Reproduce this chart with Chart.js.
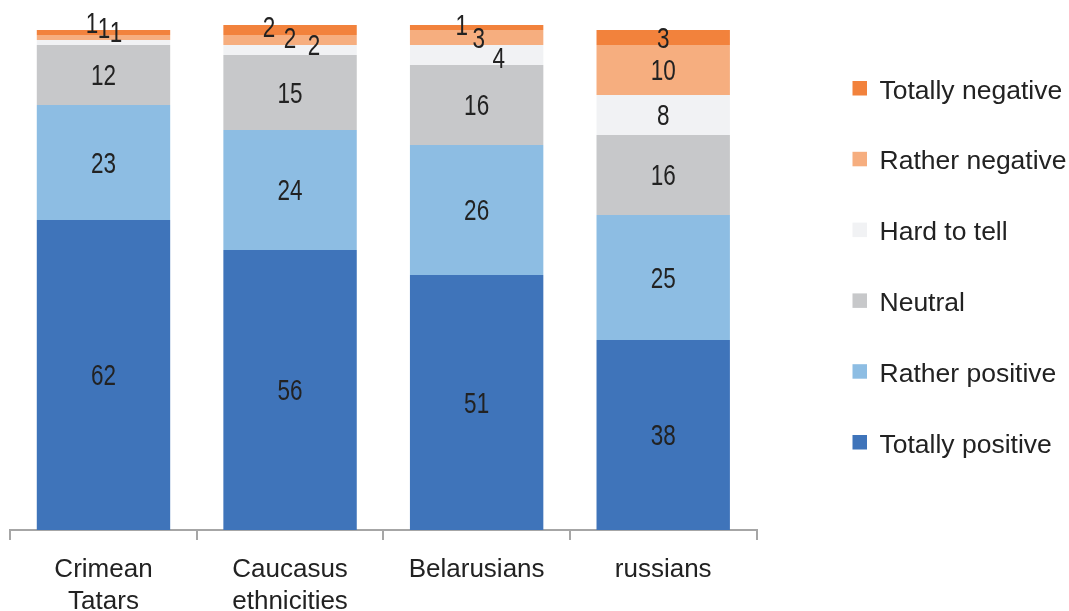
<!DOCTYPE html>
<html>
<head>
<meta charset="utf-8">
<script src="https://cdn.jsdelivr.net/npm/chart.js@4"></script>
<style>
  html, body { margin: 0; padding: 0; background: #fff; }
  #wrap { width: 1069px; height: 611px; }
</style>
</head>
<body>
<div id="wrap"><canvas id="chart"></canvas></div>
<script>
// data (percent)
const categories = [['Crimean', 'Tatars'], ['Caucasus', 'ethnicities'], 'Belarusians', 'russians'];
const totallyPositive = [62, 56, 51, 38];
const ratherPositive = [23, 24, 26, 25];
const neutral = [12, 15, 16, 16];
const hardToTell = [1, 2, 4, 8];
const ratherNegative = [1, 2, 3, 10];
const totallyNegative = [1, 2, 1, 3];
const yMax = 101;

// small segments get their labels pushed aside, like in the original
const nudge = {
  3: { 0: [12.5, -10.5], 1: [24, -5.5], 2: [22, 2.5] },
  4: { 0: [0.5, -10], 1: [0, -2.5], 2: [2, 0.5] },
  5: { 0: [-11.5, -9.5], 1: [-21, -3], 2: [-15, -2.5] }
};

const LABEL_SIZE = 22.5;
const STRETCH = 1.3;

const valueLabels = {
  id: 'valueLabels',
  afterDatasetsDraw(chart) {
    const ctx = chart.ctx;
    ctx.save();
    ctx.fillStyle = '#222';
    ctx.textAlign = 'center';
    ctx.textBaseline = 'alphabetic';
    ctx.font = LABEL_SIZE + 'px "Liberation Sans", Arial, sans-serif';
    chart.data.datasets.forEach((ds, di) => {
      chart.getDatasetMeta(di).data.forEach((bar, i) => {
        const off = (nudge[di] && nudge[di][i]) || [0, 0];
        const cy = (bar.y + bar.base) / 2 + off[1];
        ctx.save();
        // baseline sits half a cap height below the centre
        ctx.translate(bar.x + off[0], cy + 0.358 * LABEL_SIZE * STRETCH);
        ctx.scale(1, STRETCH); // the original text is stretched vertically
        ctx.fillText(ds.data[i], 0, 0);
        ctx.restore();
      });
    });
    ctx.restore();
  }
};

// legend on the right, top item = top of the stack
const sideLegend = {
  id: 'sideLegend',
  afterDraw(chart) {
    const ctx = chart.ctx;
    const dsets = chart.data.datasets.slice().reverse();
    const x = chart.chartArea.right + 96;
    ctx.save();
    ctx.font = '26.5px "Liberation Sans", Arial, sans-serif';
    ctx.textBaseline = 'alphabetic';
    ctx.textAlign = 'left';
    dsets.forEach((ds, i) => {
      const top = 81 + i * 70.8;
      ctx.fillStyle = ds.backgroundColor;
      ctx.fillRect(x, top, 14.5, 14.5);
      ctx.fillStyle = '#222';
      ctx.fillText(ds.label, x + 27, top + 17.5);
    });
    ctx.restore();
  }
};

new Chart(document.getElementById('chart'), {
  type: 'bar',
  data: {
    labels: categories,
    datasets: [
      { label: 'Totally positive', data: totallyPositive, backgroundColor: '#3f74ba' },
      { label: 'Rather positive', data: ratherPositive, backgroundColor: '#8dbde3' },
      { label: 'Neutral', data: neutral, backgroundColor: '#c7c8ca' },
      { label: 'Hard to tell', data: hardToTell, backgroundColor: '#f1f2f4' },
      { label: 'Rather negative', data: ratherNegative, backgroundColor: '#f6ae7f' },
      { label: 'Totally negative', data: totallyNegative, backgroundColor: '#f2823c' }
    ]
  },
  options: {
    responsive: true,
    maintainAspectRatio: false,
    animation: false,
    layout: { padding: { left: 10.2, right: 312.5, top: 25, bottom: 0 } },
    datasets: { bar: { categoryPercentage: 1, barPercentage: 0.715, borderWidth: 0 } },
    plugins: { legend: { display: false }, tooltip: { enabled: false } },
    scales: {
      x: {
        stacked: true,
        grid: { offset: true, drawOnChartArea: false, drawTicks: true, tickLength: 10, color: '#a6a6a6', lineWidth: 2 },
        border: { display: true, color: '#a6a6a6', width: 2 },
        ticks: {
          color: '#222',
          font: { family: '"Liberation Sans", Arial, sans-serif', size: 26, lineHeight: 1.23 },
          padding: 14,
          maxRotation: 0,
          autoSkip: false
        },
        // the labels may run to the bottom edge, keep the axis line at y=530
        afterFit(scale) { scale.height = 81; }
      },
      y: { stacked: true, display: false, min: 0, max: yMax }
    }
  },
  plugins: [valueLabels, sideLegend]
});
</script>
</body>
</html>
